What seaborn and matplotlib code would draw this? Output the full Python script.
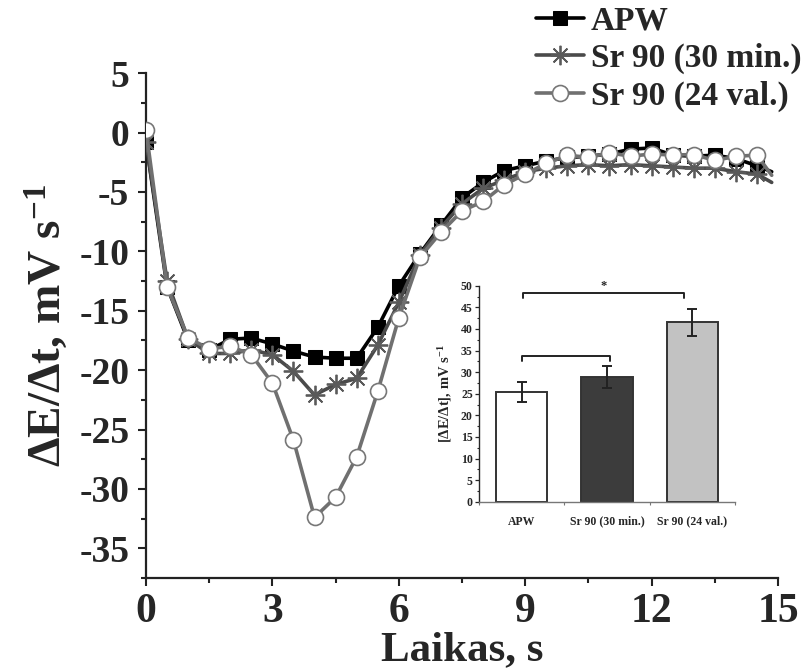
import numpy as np
import pandas as pd
import matplotlib
matplotlib.use("Agg")
import matplotlib.pyplot as plt
from matplotlib.ticker import MultipleLocator, FixedLocator
import seaborn as sns

# ---------------- data ----------------
time_s = [0, 0.5, 1, 1.5, 2, 2.5, 3, 3.5, 4, 4.5, 5, 5.5, 6, 6.5, 7, 7.5,
          8, 8.5, 9, 9.5, 10, 10.5, 11, 11.5, 12, 12.5, 13, 13.5, 14, 14.5, 14.85]
apw = [-0.8, -13.0, -17.5, -18.3, -17.4, -17.3, -17.8, -18.4, -18.9, -19.0,
       -19.0, -16.4, -12.9, -10.2, -7.8, -5.5, -4.2, -3.2, -2.8, -2.4, -2.1,
       -2.0, -1.8, -1.4, -1.3, -1.9, -2.0, -1.9, -2.2, -2.8, -3.3]
sr90_30min = [-0.8, -12.5, -17.4, -18.6, -18.6, -18.3, -18.7, -20.1, -22.1, -21.2,
              -20.7, -17.9, -14.3, -10.3, -8.0, -6.0, -4.7, -4.0, -3.3, -3.0, -2.8,
              -2.7, -2.8, -2.7, -2.8, -2.9, -3.0, -3.0, -3.3, -3.5, -4.2]
sr90_24val = [0.2, -13.0, -17.3, -18.2, -18.0, -18.7, -21.1, -25.9, -32.4, -30.7,
              -27.3, -21.8, -15.6, -10.5, -8.4, -6.6, -5.8, -4.4, -3.5, -2.6, -1.9,
              -2.1, -1.7, -2.0, -1.8, -1.9, -1.85, -2.35, -2.0, -1.9, -3.6]
series_labels = ["APW", "Sr 90 (30 min.)", "Sr 90 (24 val.)"]

bar_categories = ["APW", "Sr 90 (30 min.)", "Sr 90 (24 val.)"]
bar_values = [25.3, 28.9, 41.5]
bar_errors = [2.3, 2.5, 3.2]

main_xticks = [0, 3, 6, 9, 12, 15]
main_yticks = [5, 0, -5, -10, -15, -20, -25, -30, -35]
inset_yticks = [0, 5, 10, 15, 20, 25, 30, 35, 40, 45, 50]

# ---------------- style ----------------
sns.set_style("ticks")
plt.rcParams["font.family"] = ["Liberation Serif", "DejaVu Serif"]
plt.rcParams["font.weight"] = "bold"
plt.rcParams["axes.unicode_minus"] = False
plt.rcParams["mathtext.fontset"] = "custom"
plt.rcParams["mathtext.rm"] = "Liberation Serif:bold"
plt.rcParams["mathtext.bf"] = "Liberation Serif:bold"
plt.rcParams["mathtext.it"] = "Liberation Serif:italic:bold"

fig = plt.figure(figsize=(8.04, 6.71), dpi=100)
ax = fig.add_axes([0.1816, 0.1386, 0.7861, 0.7524])

n_mark = len(time_s) - 1
sns.lineplot(x=time_s, y=apw, ax=ax, color="black", lw=2.6, marker="s",
             markersize=9.5, markeredgecolor="black", markerfacecolor="black",
             markevery=list(range(n_mark)), label=series_labels[0],
             sort=False, estimator=None, zorder=3)
sns.lineplot(x=time_s, y=sr90_30min, ax=ax, color="#4a4a4a", lw=2.6,
             marker=(8, 2, 0), markersize=14, markeredgewidth=1.3,
             markeredgecolor="#5a5a5a", markevery=list(range(n_mark)),
             label=series_labels[1], sort=False, estimator=None, zorder=4)
sns.lineplot(x=time_s, y=sr90_24val, ax=ax, color="#707070", lw=2.6, marker="o",
             markersize=11.5, markeredgewidth=1.2, markeredgecolor="#777777",
             markerfacecolor="white", markevery=list(range(n_mark)),
             label=series_labels[2], sort=False, estimator=None, zorder=5)

ax.set_xlim(0, 15)
ax.set_ylim(-37.5, 5)
ax.xaxis.set_major_locator(FixedLocator(main_xticks))
ax.xaxis.set_minor_locator(MultipleLocator(1.5))
ax.yaxis.set_major_locator(FixedLocator(main_yticks))
ax.yaxis.set_minor_locator(MultipleLocator(2.5))
for s in ["top", "right"]:
    ax.spines[s].set_visible(False)
for s in ["left", "bottom"]:
    ax.spines[s].set_linewidth(1.6)
    ax.spines[s].set_color("#222222")
ax.tick_params(axis="both", which="major", length=6, width=1.5, direction="out",
               color="#222222")
ax.tick_params(axis="both", which="minor", length=3.5, width=1.5, direction="out",
               color="#222222")
ax.tick_params(axis="x", labelsize=30, pad=5)
ax.tick_params(axis="y", labelsize=27, pad=6)
for lab in ax.get_xticklabels() + ax.get_yticklabels():
    lab.set_fontweight("bold")

ax.set_xlabel("Laikas, s", fontsize=31, fontweight="bold", labelpad=0)
ax.set_ylabel(r"ΔE/Δt, mV s$^{-1}$", fontsize=34, fontweight="bold", labelpad=6)

leg = ax.legend(loc="upper left", bbox_to_anchor=(0.662, 0.997),
                bbox_transform=fig.transFigure, frameon=False, fontsize=24,
                handlelength=1.45, handletextpad=0.2, labelspacing=0.2,
                borderaxespad=0, borderpad=0.1)
for t in leg.get_texts():
    t.set_fontweight("bold")

# ---------------- inset ----------------
axin = fig.add_axes([0.5958, 0.2523, 0.3184, 0.3219])
bar_df = pd.DataFrame({"cat": bar_categories, "val": bar_values})
sns.barplot(data=bar_df, x="cat", y="val", hue="cat", legend=False, ax=axin,
            palette=["#ffffff", "#3c3c3c", "#c2c2c2"], edgecolor="#333333",
            linewidth=1.4, width=0.6, errorbar=None)
axin.errorbar(x=list(range(len(bar_categories))), y=bar_values, yerr=bar_errors,
              fmt="none", ecolor="#222222", elinewidth=1.4, capsize=3.5,
              capthick=1.4, zorder=5)
axin.set_xlim(-0.5, 2.5)
axin.set_ylim(0, 50)
axin.yaxis.set_major_locator(FixedLocator(inset_yticks))
axin.yaxis.set_minor_locator(MultipleLocator(2.5))
axin.xaxis.set_minor_locator(FixedLocator([-0.5, 0.5, 1.5, 2.5]))
for s in ["top", "right"]:
    axin.spines[s].set_visible(False)
axin.spines["left"].set_linewidth(1.0)
axin.spines["bottom"].set_linewidth(1.0)
axin.spines["bottom"].set_color("#777777")
axin.tick_params(axis="y", which="major", length=3, width=0.9, labelsize=8.5, pad=1.5)
axin.tick_params(axis="y", which="minor", length=1.5, width=0.8)
axin.tick_params(axis="x", which="major", length=0, labelsize=8.5, pad=10)
axin.tick_params(axis="x", which="minor", length=2.5, width=0.8, color="#777777")
for lab in axin.get_xticklabels() + axin.get_yticklabels():
    lab.set_fontweight("bold")
axin.set_xlabel("")
axin.set_ylabel(r"[ΔE/Δt], mV s$^{-1}$", fontsize=10.5, fontweight="bold", labelpad=5)

# significance brackets
def bracket(x0, x1, y, drop, text=None):
    axin.plot([x0, x0, x1, x1], [y - drop, y, y, y - drop], color="#222222",
              lw=1.4, clip_on=False)
    if text:
        axin.text((x0 + x1) / 2, y + 0.3, text, ha="center", va="bottom",
                  fontsize=9, fontweight="bold")

bracket(0.02, 1.9, 48.2, 1.1, "*")
bracket(0.0, 1.03, 33.7, 1.1)

fig.savefig("out.png", dpi=100)
